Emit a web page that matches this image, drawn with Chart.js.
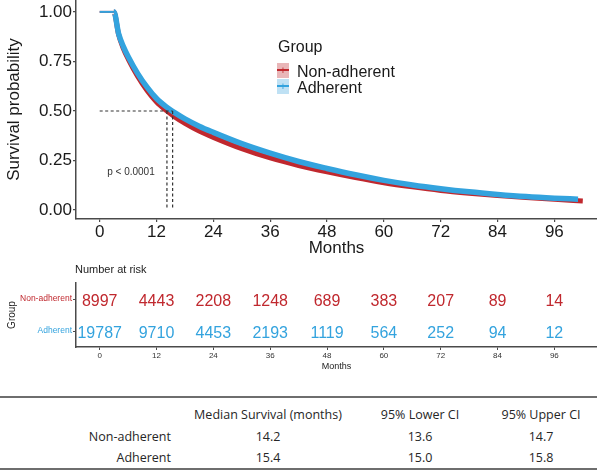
<!DOCTYPE html>
<html>
<head>
<meta charset="utf-8">
<script src="https://cdn.jsdelivr.net/npm/chart.js@4.4.1/dist/chart.umd.min.js"></script>
<style>
  body { margin:0; background:#fff; width:597px; height:474px; position:relative; overflow:hidden;
         font-family:"Liberation Sans", Arial, sans-serif; color:#1a1a1a; }
  canvas { position:absolute; left:0; }
  #km { top:0; }
  #risk { top:262px; }
  .abs { position:absolute; white-space:nowrap; }
  .sw { position:absolute; width:12px; height:15px; }
  .sw .ln { position:absolute; left:0; right:0; top:6px; height:2px; }
  .sw .pl { position:absolute; left:0; right:0; top:0; line-height:14px; font-size:11px; text-align:center; }
  .rule { position:absolute; left:0; width:597px; height:2px; background:#6e6e6e; }
  .tc { position:absolute; white-space:nowrap; font-family:"Open Sans", sans-serif; font-size:12.5px; color:#262626; }
</style>
</head>
<body>
<canvas id="km" width="597" height="262"></canvas>
<canvas id="risk" width="597" height="112"></canvas>
<div id="legend"></div>
<div class="abs" style="left:75px;top:263px;font-size:11px;color:#222">Number at risk</div>
<div id="tbl"></div>
<script>
// survival curves
const adhMonths = [0, 3, 4, 5, 6, 8, 10, 12, 14, 16, 18, 21, 24, 30, 36, 42, 48, 54, 60, 66, 72, 78, 84, 90, 96, 101];
const adhSurv   = [1, 1, 0.89, 0.825, 0.775, 0.69, 0.62, 0.563, 0.522, 0.489, 0.46, 0.423, 0.392, 0.335, 0.287, 0.245, 0.21, 0.178, 0.15, 0.127, 0.108, 0.092, 0.079, 0.068, 0.06, 0.055];
const nonMonths = [0, 3, 4, 5, 6, 8, 10, 12, 14, 16, 18, 21, 24, 30, 36, 42, 48, 54, 60, 66, 72, 78, 84, 90, 96, 102];
const nonSurv   = [1, 1, 0.885, 0.815, 0.763, 0.675, 0.603, 0.545, 0.503, 0.468, 0.438, 0.399, 0.367, 0.31, 0.263, 0.225, 0.193, 0.164, 0.138, 0.117, 0.099, 0.085, 0.073, 0.063, 0.054, 0.046];

const xTicks = [0, 12, 24, 36, 48, 60, 72, 84, 96];
const yTicks = [0, 0.25, 0.5, 0.75, 1];

// number at risk
const groups = ['Non-adherent', 'Adherent'];
const riskNon = [8997, 4443, 2208, 1248, 689, 383, 207, 89, 14];
const riskAdh = [19787, 9710, 4453, 2193, 1119, 564, 252, 94, 12];

// median table
const tblHeaders = ['Median Survival (months)', '95% Lower CI', '95% Upper CI'];
const medianSurv = [14.2, 15.4];
const lowerCI = [13.6, 15.0];
const upperCI = [14.7, 15.8];

const RED = '#c0282e', BLUE = '#33a3de';
const FONT = '"Liberation Sans", Arial, sans-serif';
const AXIS = '#4a4a4a';

function pts(xs, ys) { return xs.map((x, i) => ({ x: x, y: ys[i] })); }

// dashed median guides
const guides = [
  { data: [{ x: 0, y: 0.5 }, { x: medianSurv[1], y: 0.5 }] },
  { data: [{ x: medianSurv[0], y: 0.5 }, { x: medianSurv[0], y: 0 }] },
  { data: [{ x: medianSurv[1], y: 0.5 }, { x: medianSurv[1], y: 0 }] }
].map(g => Object.assign(g, {
  borderColor: '#333', borderWidth: 1.2, borderDash: [3, 2.5], pointRadius: 0, order: 0
}));

// the flat start is a plain thin line, the rest carries band + censor marks
function curve(label, data, color, width, order) {
  return {
    label: label, data: data, borderColor: color, borderWidth: width, order: order,
    pointRadius: 0, cubicInterpolationMode: 'monotone',
    segment: { borderWidth: c => (c.p1.parsed.x <= 3 ? 2 : width) }
  };
}

const pText = {
  id: 'pText',
  afterDatasetsDraw(chart) {
    const { ctx, scales } = chart;
    ctx.save();
    ctx.font = '10px ' + FONT;
    ctx.fillStyle = '#333';
    ctx.textAlign = 'center';
    ctx.textBaseline = 'middle';
    ctx.fillText('p < 0.0001', scales.x.getPixelForValue(6.6), scales.y.getPixelForValue(0.19));
    ctx.restore();
  }
};

function noPad(s) { s.paddingTop = 0; s.paddingBottom = 0; s.paddingLeft = 0; s.paddingRight = 0; }

new Chart(document.getElementById('km'), {
  type: 'line',
  data: {
    datasets: guides.concat([
      curve('Adherent', pts(adhMonths, adhSurv), BLUE, 5.5, 1),
      curve('Non-adherent', pts(nonMonths, nonSurv), RED, 5, 2)
    ])
  },
  options: {
    responsive: false, animation: false, devicePixelRatio: 1,
    layout: { padding: 0 },
    plugins: { legend: { display: false }, tooltip: { enabled: false } },
    scales: {
      x: {
        type: 'linear', min: -5, max: 105,
        afterBuildTicks: s => { s.ticks = xTicks.map(v => ({ value: v })); },
        afterFit: s => { s.height = 43; noPad(s); },
        grid: { drawOnChartArea: false, tickLength: 3, color: AXIS, lineWidth: 1.2 },
        border: { color: AXIS, width: 1.5 },
        ticks: { font: { family: FONT, size: 17 }, color: '#1a1a1a', padding: 0, maxRotation: 0 },
        title: { display: true, text: 'Months', font: { family: FONT, size: 17 }, color: '#1a1a1a', padding: { top: 0, bottom: 3 } }
      },
      y: {
        min: -0.045, max: 1.06,
        afterBuildTicks: s => { s.ticks = yTicks.map(v => ({ value: v })); },
        afterFit: s => { s.width = 76; noPad(s); },
        grid: { drawOnChartArea: false, tickLength: 3, color: AXIS, lineWidth: 1.2 },
        border: { color: AXIS, width: 1.5 },
        ticks: { font: { family: FONT, size: 17 }, color: '#1a1a1a', padding: 1, callback: v => v.toFixed(2) },
        title: { display: true, text: 'Survival probability', font: { family: FONT, size: 17 }, color: '#1a1a1a', padding: { top: 4, bottom: 0 } }
      }
    }
  },
  plugins: [pText]
});

// risk table: counts are written at each point's scale position
const riskLabels = {
  id: 'riskLabels',
  afterDatasetsDraw(chart) {
    const ctx = chart.ctx;
    ctx.save();
    ctx.font = '16px ' + FONT;
    ctx.textAlign = 'center';
    ctx.textBaseline = 'alphabetic';
    chart.data.datasets.forEach((ds, i) => {
      ctx.fillStyle = ds.borderColor;
      chart.getDatasetMeta(i).data.forEach((el, j) => ctx.fillText(String(ds.data[j].n), el.x, el.y + 6.5));
    });
    ctx.restore();
  }
};

new Chart(document.getElementById('risk'), {
  type: 'scatter',
  data: {
    datasets: [
      { label: groups[0], data: xTicks.map((t, i) => ({ x: t, y: groups[0], n: riskNon[i] })), borderColor: RED, pointRadius: 0 },
      { label: groups[1], data: xTicks.map((t, i) => ({ x: t, y: groups[1], n: riskAdh[i] })), borderColor: BLUE, pointRadius: 0 }
    ]
  },
  options: {
    responsive: false, animation: false, devicePixelRatio: 1,
    layout: { padding: { top: 21, left: 0, right: 0, bottom: 0 } },
    plugins: { legend: { display: false }, tooltip: { enabled: false } },
    scales: {
      x: {
        type: 'linear', min: -5, max: 105,
        afterBuildTicks: s => { s.ticks = xTicks.map(v => ({ value: v })); },
        afterFit: s => { s.height = 27; noPad(s); },
        grid: { drawOnChartArea: false, tickLength: 3, color: AXIS, lineWidth: 1 },
        border: { color: AXIS, width: 1.5 },
        ticks: { font: { family: FONT, size: 8 }, color: '#333', padding: 1, maxRotation: 0 },
        title: { display: true, text: 'Months', font: { family: FONT, size: 9 }, color: '#222', padding: { top: 0, bottom: 2 } }
      },
      y: {
        type: 'category', labels: groups, offset: true,
        afterFit: s => { s.width = 76; noPad(s); },
        grid: { drawOnChartArea: false, tickLength: 3, color: AXIS, lineWidth: 1, offset: false },
        border: { color: AXIS, width: 1.5 },
        ticks: { font: { family: FONT, size: 8.5 }, color: [RED, BLUE], padding: 1 },
        title: { display: true, text: 'Group', font: { family: FONT, size: 10 }, color: '#222', padding: { top: 6, bottom: 0 } }
      }
    }
  },
  plugins: [riskLabels]
});

// legend
(function () {
  const lg = document.getElementById('legend');
  let h = '<div class="abs" style="left:278px;top:39px;font-size:16px;line-height:16px">Group</div>';
  const items = [[groups[0], RED, '#e9b6b8'], [groups[1], BLUE, '#bfe1f4']];
  items.forEach((it, i) => {
    const top = 63 + i * 16;
    h += '<div class="sw" style="left:277px;top:' + top + 'px;background:' + it[2] + '">' +
         '<div class="ln" style="background:' + it[1] + '"></div>' +
         '<div class="pl" style="color:' + it[1] + '">+</div></div>';
    h += '<div class="abs" style="left:297px;top:' + (top + 1) + 'px;font-size:16px;line-height:16px">' + it[0] + '</div>';
  });
  lg.innerHTML = h;
})();

// median survival table
(function () {
  const t = document.getElementById('tbl');
  const colX = [268, 420, 541];
  const rowY = [415, 437, 458];
  let h = '<div class="rule" style="top:396px"></div><div class="rule" style="top:468px"></div>';
  tblHeaders.forEach((txt, c) => {
    h += '<div class="tc" style="left:' + colX[c] + 'px;top:' + (rowY[0] - 9) + 'px;transform:translateX(-50%)">' + txt + '</div>';
  });
  groups.forEach((g, r) => {
    const y = rowY[r + 1] - 9;
    h += '<div class="tc" style="right:' + (597 - 171) + 'px;top:' + y + 'px">' + g + '</div>';
    [medianSurv[r], lowerCI[r], upperCI[r]].forEach((v, c) => {
      h += '<div class="tc" style="left:' + colX[c] + 'px;top:' + y + 'px;transform:translateX(-50%)">' + v.toFixed(1) + '</div>';
    });
  });
  t.innerHTML = h;
})();
</script>
</body>
</html>
